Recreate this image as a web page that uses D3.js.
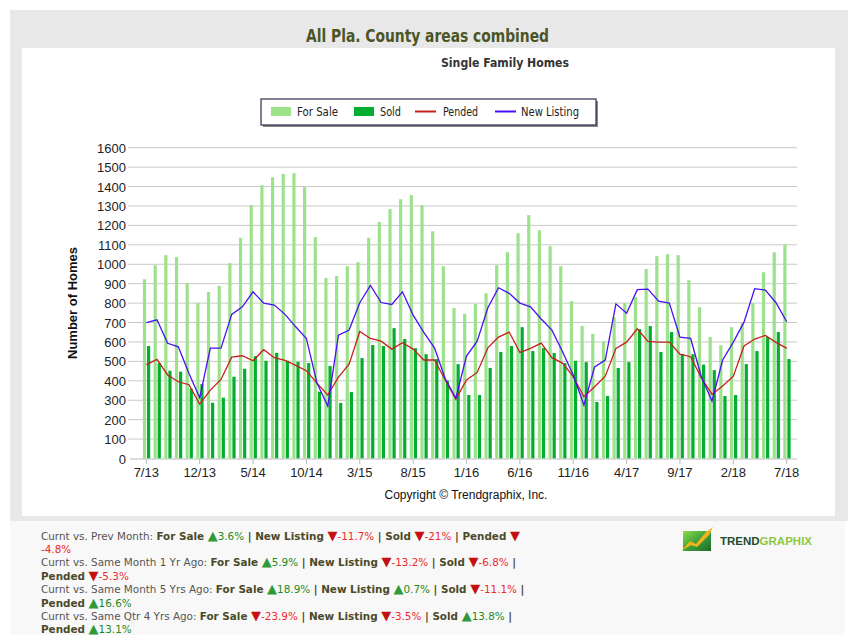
<!DOCTYPE html>
<html><head><meta charset="utf-8">
<script src="https://cdn.jsdelivr.net/npm/d3@7"></script>
<style>body{margin:0;background:#fff}svg{display:block}</style>
</head><body><svg id="c" width="867" height="635"></svg>
<script>
const months = ["7/13","8/13","9/13","10/13","11/13","12/13",
"1/14","2/14","3/14","4/14","5/14","6/14","7/14","8/14","9/14","10/14","11/14","12/14",
"1/15","2/15","3/15","4/15","5/15","6/15","7/15","8/15","9/15","10/15","11/15","12/15",
"1/16","2/16","3/16","4/16","5/16","6/16","7/16","8/16","9/16","10/16","11/16","12/16",
"1/17","2/17","3/17","4/17","5/17","6/17","7/17","8/17","9/17","10/17","11/17","12/17",
"1/18","2/18","3/18","4/18","5/18","6/18","7/18"];
const forSale = [923,995,1047,1037,903,800,857,889,1006,1136,
1304,1407,1448,1465,1469,1397,1140,929,939,990,
1011,1136,1218,1284,1335,1356,1304,1170,990,774,
745,796,851,995,1062,1160,1253,1175,1093,990,
810,682,641,604,728,800,831,975,1042,1052,
1047,918,779,625,584,676,697,800,959,1062,1103];
const sold = [579,490,452,447,359,383,287,313,421,462,
527,503,544,503,498,491,344,476,286,342,
517,584,579,671,615,568,537,512,400,486,
327,327,466,548,579,676,553,568,543,491,
503,496,291,322,466,496,666,682,548,651,
537,537,483,455,322,327,486,553,625,651,512];
const pended = [483,510,430,395,380,280,352,407,522,529,
503,560,519,505,479,452,387,327,419,486,
654,618,604,563,596,563,507,508,404,305,
404,443,570,625,651,546,567,594,519,491,
421,318,369,424,567,599,668,603,599,599,
537,524,416,330,373,424,579,615,634,598,567];
const newListing = [699,714,593,575,438,313,568,568,742,781,
858,800,790,742,678,618,387,270,635,661,
802,891,803,793,858,738,649,570,412,310,
527,604,776,879,850,800,781,718,661,550,
430,275,471,507,796,748,869,872,810,800,
625,618,421,296,507,599,702,874,867,802,704];
const xTickLabels = ["7/13","12/13","5/14","10/14","3/15","8/15","1/16","6/16","11/16","4/17","9/17","2/18","7/18"];
const yTicks = [0,100,200,300,400,500,600,700,800,900,1000,1100,1200,1300,1400,1500,1600];
const legendItems = [
  {name:"For Sale", type:"bar", color:"#9ce28a"},
  {name:"Sold", type:"bar", color:"#03ad31"},
  {name:"Pended", type:"line", color:"#c81e1e"},
  {name:"New Listing", type:"line", color:"#4a10f5"}
];
const summary = [
  [["Curnt vs. Prev Month: ","n"],["For Sale ","b"],["▲","up"],["3.6%","g"],[" | ","b"],["New Listing ","b"],["▼","dn"],["-11.7%","r"],[" | ","b"],["Sold ","b"],["▼","dn"],["-21%","r"],[" | ","b"],["Pended ","b"],["▼","dn"]],
  [["-4.8%","r"]],
  [["Curnt vs. Same Month 1 Yr Ago: ","n"],["For Sale ","b"],["▲","up"],["5.9%","g"],[" | ","b"],["New Listing ","b"],["▼","dn"],["-13.2%","r"],[" | ","b"],["Sold ","b"],["▼","dn"],["-6.8%","r"],[" |","b"]],
  [["Pended ","b"],["▼","dn"],["-5.3%","r"]],
  [["Curnt vs. Same Month 5 Yrs Ago: ","n"],["For Sale ","b"],["▲","up"],["18.9%","g"],[" | ","b"],["New Listing ","b"],["▲","up"],["0.7%","g"],[" | ","b"],["Sold ","b"],["▼","dn"],["-11.1%","r"],[" |","b"]],
  [["Pended ","b"],["▲","up"],["16.6%","g"]],
  [["Curnt vs. Same Qtr 4 Yrs Ago: ","n"],["For Sale ","b"],["▼","dn"],["-23.9%","r"],[" | ","b"],["New Listing ","b"],["▼","dn"],["-3.5%","r"],[" | ","b"],["Sold ","b"],["▲","up"],["13.8%","g"],[" |","b"]],
  [["Pended ","b"],["▲","up"],["13.1%","g"]]
];

const svg = d3.select("#c");
const narrow = "'Liberation Sans Narrow','DejaVu Sans Condensed',sans-serif";
const sans = "'Liberation Sans',Arial,sans-serif";

// frame
svg.append("rect").attr("x",10).attr("y",10).attr("width",838).attr("height",511).attr("fill","#e8e8e8");
svg.append("rect").attr("x",10).attr("y",521).attr("width",835).attr("height",114).attr("fill","#f8f8f8");
svg.append("rect").attr("x",22).attr("y",48).attr("width",813).attr("height",468).attr("fill","#fff");

svg.append("text").attr("x",306).attr("y",42)
  .attr("font-family",narrow).attr("font-weight","bold").attr("font-size",17).attr("fill","#4b5525")
  .attr("textLength",243).attr("lengthAdjust","spacingAndGlyphs")
  .text("All Pla. County areas combined");
svg.append("text").attr("x",441).attr("y",67)
  .attr("font-family",narrow).attr("font-weight","bold").attr("font-size",13).attr("fill","#333")
  .attr("textLength",128).attr("lengthAdjust","spacingAndGlyphs")
  .text("Single Family Homes");

// scales
const x = d3.scalePoint().domain(months).range([146.3, 786.7]);
const y = d3.scaleLinear().domain([0,1600]).range([458.5, 147.7]);
const plotL = 128, plotR = 797;

// grid
svg.append("g").selectAll("line").data(yTicks.filter(d=>d>0)).join("line")
  .attr("x1",plotL).attr("x2",plotR).attr("y1",d=>y(d)).attr("y2",d=>y(d))
  .attr("stroke","#c8c8c8").attr("stroke-width",1);
svg.append("g").selectAll("text").data(yTicks).join("text")
  .attr("x",126).attr("y",d=>y(d)+5).attr("text-anchor","end")
  .attr("font-family",sans).attr("font-size",13).attr("fill","#222").text(d=>d);

// bars
const bw = 3.2;
svg.append("g").selectAll("rect").data(forSale).join("rect")
  .attr("x",(d,i)=>x(months[i])-3.4).attr("width",bw)
  .attr("y",d=>y(d)).attr("height",d=>y(0)-y(d)).attr("fill",legendItems[0].color);
svg.append("g").selectAll("rect").data(sold).join("rect")
  .attr("x",(d,i)=>x(months[i])+0.7).attr("width",bw)
  .attr("y",d=>y(d)).attr("height",d=>y(0)-y(d)).attr("fill",legendItems[1].color);

// lines
const line = d3.line().x((d,i)=>x(months[i])).y(d=>y(d));
svg.append("path").datum(pended).attr("d",line).attr("fill","none")
  .attr("stroke",legendItems[2].color).attr("stroke-width",1.3);
svg.append("path").datum(newListing).attr("d",line).attr("fill","none")
  .attr("stroke",legendItems[3].color).attr("stroke-width",1.3);

// x axis
svg.append("line").attr("x1",130).attr("x2",plotR).attr("y1",459).attr("y2",459).attr("stroke","#bbb");
const xt = svg.append("g").selectAll("g").data(xTickLabels).join("g");
xt.append("line").attr("x1",d=>x(d)).attr("x2",d=>x(d)).attr("y1",459).attr("y2",464).attr("stroke","#bbb");
xt.append("text").attr("x",d=>x(d)).attr("y",477).attr("text-anchor","middle")
  .attr("font-family",sans).attr("font-size",13).attr("fill","#222").text(d=>d);

// y title
svg.append("text").attr("transform","translate(77,303) rotate(-90)").attr("text-anchor","middle")
  .attr("font-family",sans).attr("font-weight","bold").attr("font-size",13).attr("fill","#111")
  .text("Number of Homes");

// copyright
svg.append("text").attr("x",466).attr("y",499).attr("text-anchor","middle")
  .attr("font-family",sans).attr("font-size",12).attr("fill","#111")
  .text("Copyright © Trendgraphix, Inc.");

// legend
svg.append("rect").attr("x",263).attr("y",101).attr("width",335).attr("height",26).attr("fill","#888");
svg.append("rect").attr("x",261).attr("y",99).attr("width",335).attr("height",26).attr("fill","#fff")
  .attr("stroke","#2b2b4e").attr("stroke-width",1.2);
const lx = [271,354,415,495];
const tx = [297,380,443,521];
const tw = [41,21,35,58];
legendItems.forEach((it,i)=>{
  if(it.type==="bar") svg.append("rect").attr("x",lx[i]).attr("y",107).attr("width",20).attr("height",9).attr("fill",it.color);
  else svg.append("line").attr("x1",lx[i]).attr("x2",lx[i]+21).attr("y1",111.5).attr("y2",111.5).attr("stroke",it.color).attr("stroke-width",2);
  svg.append("text").attr("x",tx[i]).attr("y",116).attr("font-family",narrow).attr("font-size",13).attr("fill","#222")
    .attr("textLength",tw[i]).attr("lengthAdjust","spacingAndGlyphs").text(it.name);
});

// summary text
const styles = {
  n:{fill:"#555",weight:"normal",size:10.4}, b:{fill:"#4a4a28",weight:"bold",size:10.4},
  up:{fill:"#2f9a3a",weight:"normal",size:13}, dn:{fill:"#c41010",weight:"normal",size:13},
  g:{fill:"#1d8a1d",weight:"normal",size:10.4}, r:{fill:"#ee2a2a",weight:"normal",size:10.4}
};
summary.forEach((segs,li)=>{
  const t = svg.append("text").attr("x",41).attr("y",539.5+li*13.4)
    .attr("font-family","'DejaVu Sans',Verdana,sans-serif").attr("font-size",10.4).attr("xml:space","preserve");
  segs.forEach(([s,k])=>{
    t.append("tspan").attr("fill",styles[k].fill).attr("font-weight",styles[k].weight)
      .attr("font-size",styles[k].size).text(s);
  });
});

// logo
const defs = svg.append("defs");
const gr = defs.append("linearGradient").attr("id","lg").attr("x1","0").attr("y1","0").attr("x2","1").attr("y2","1");
gr.append("stop").attr("offset","0").attr("stop-color","#8fd94a");
gr.append("stop").attr("offset","0.5").attr("stop-color","#3ea33a");
gr.append("stop").attr("offset","1").attr("stop-color","#1d6b2a");
svg.append("rect").attr("x",683).attr("y",531).attr("width",28).attr("height",20).attr("fill","url(#lg)");
svg.append("path").attr("d","M681,551 L690,541 L696,544 L706,532 L713,527 L709,535 L697,547 L691,545 Z").attr("fill","#f3b31b");
const lt = svg.append("text").attr("x",720).attr("y",545).attr("font-family",sans).attr("font-weight","bold")
  .attr("font-size",11.5).attr("textLength",92);
lt.append("tspan").attr("fill","#1f4d2c").text("TREND");
lt.append("tspan").attr("fill","#8cc63f").text("GRAPHIX");
</script></body></html>
